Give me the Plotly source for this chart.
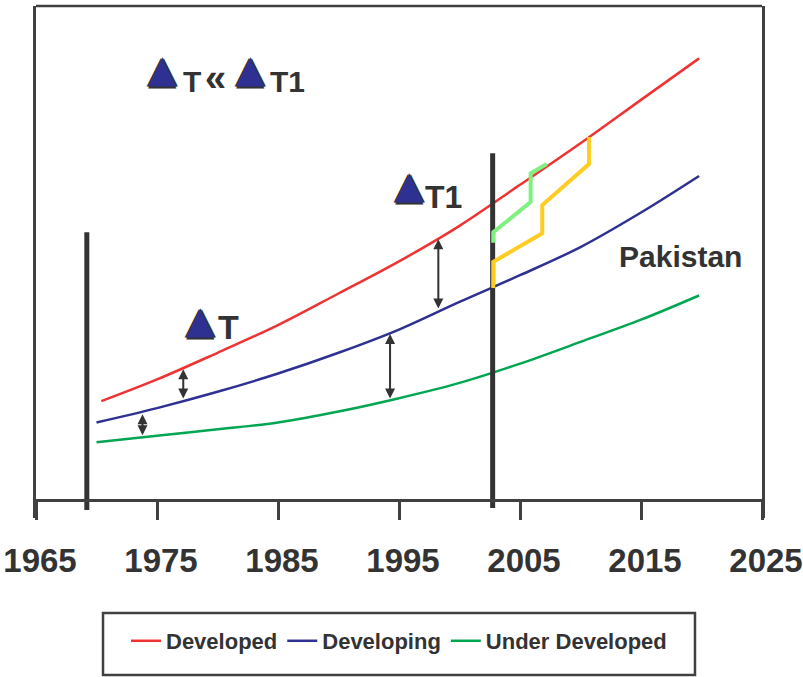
import plotly.graph_objects as go

# ---------------- data ----------------
dev_years = [1970.4, 1975, 1980, 1985, 1990, 1995, 2000, 2005, 2010, 2015, 2019.8]
developed = [20.0, 24.4, 29.8, 35.4, 41.8, 48.3, 55.5, 63.8, 72.2, 81.0, 89.4]

years = [1970, 1975, 1980, 1985, 1990, 1995, 2000, 2005, 2010, 2015, 2019.8]
developing = [15.7, 18.6, 21.9, 25.6, 29.8, 34.5, 40.1, 45.5, 51.2, 58.2, 65.6]
under_developed = [11.7, 13.0, 14.3, 15.7, 17.9, 20.6, 23.7, 27.6, 32.0, 36.5, 41.4]

pak_green_x = [2002.79, 2002.79, 2005.88, 2005.88, 2007.21]
pak_green_y = [52.1, 54.2, 60.3, 66.1, 68.0]
pak_yellow_x = [2002.79, 2002.79, 2006.84, 2006.84, 2010.70, 2010.70]
pak_yellow_y = [42.9, 48.2, 54.0, 59.7, 68.0, 73.5]

bar_left_x, bar_left_y = [1969.2, 1969.2], [-2.0, 54.2]
bar_right_x, bar_right_y = [2002.74, 2002.74], [-1.6, 70.2]

# gap arrows: (year, bottom value, top value)
gap_arrows = [
    (1973.8, 12.8, 17.35),
    (1977.17, 20.24, 26.46),
    (1994.26, 20.24, 33.6),
    (1998.25, 38.46, 52.77),
]

tick_vals = [1965, 1975, 1985, 1995, 2005, 2015, 2025]
tick_text = ["1965", "1975", "1985", "1995", "2005", "2015", "2025"]

X_RANGE = [1965, 2025]
Y_RANGE = [-3.644, 100]

# ---------------- styles ----------------
RED = "#EE3333"
BLUE = "#2E3192"
GREEN = "#00A651"
DARK = "#333333"
FRAME = "#404040"
FONT = "Liberation Sans, Arial, sans-serif"

fig = go.Figure()

fig.add_trace(go.Scatter(x=dev_years, y=developed, mode="lines", name="Developed",
                         line=dict(color=RED, width=2.5, shape="spline")))
fig.add_trace(go.Scatter(x=years, y=developing, mode="lines", name="Developing",
                         line=dict(color=BLUE, width=2.5, shape="spline")))
fig.add_trace(go.Scatter(x=years, y=under_developed, mode="lines", name="Under Developed",
                         line=dict(color=GREEN, width=2.5, shape="spline")))

for bx, by in [(bar_left_x, bar_left_y), (bar_right_x, bar_right_y)]:
    fig.add_trace(go.Scatter(x=bx, y=by, mode="lines", showlegend=False,
                             line=dict(color=DARK, width=5), hoverinfo="skip"))

fig.add_trace(go.Scatter(x=pak_green_x, y=pak_green_y, mode="lines", showlegend=False,
                         line=dict(color="#80F080", width=4)))
fig.add_trace(go.Scatter(x=pak_yellow_x, y=pak_yellow_y, mode="lines", showlegend=False,
                         line=dict(color="#FFCC22", width=4)))

annotations = []
for ax_year, lo, hi in gap_arrows:
    annotations.append(dict(x=ax_year, y=hi, ax=ax_year, ay=lo, xref="x", yref="y",
                            axref="x", ayref="y", text="", showarrow=True,
                            arrowhead=2, startarrowhead=2, arrowside="end+start",
                            arrowsize=1.0, startarrowsize=1.0, arrowwidth=2,
                            arrowcolor=DARK, standoff=0, startstandoff=0))

OUTLINE = "-1.5px 0 0 #333, 1.5px 0 0 #333, 0 -1.5px 0 #333, 0 1.5px 0 #333"


def tri(x, y, size):
    return dict(x=x, y=y, xref="x", yref="y", text="▲", showarrow=False,
                xanchor="center", yanchor="middle",
                font=dict(family="DejaVu Sans", size=size, color=BLUE, shadow=OUTLINE))


def label(x, y, text, size, anchor="left"):
    return dict(x=x, y=y, xref="x", yref="y", text=text, showarrow=False,
                xanchor=anchor, yanchor="middle",
                font=dict(family=FONT, size=size, color=DARK, weight="bold"))


annotations += [
    tri(1975.45, 87.2, 37), label(1977.0, 84.7, "T", 30),
    label(1979.8, 85.4, "«", 38, anchor="center"),
    tri(1982.73, 87.2, 37), label(1984.2, 84.7, "T1", 30),
    tri(1995.87, 63.6, 37), label(1997.0, 61.4, "T1", 32),
    tri(1978.60, 36.3, 37), label(1979.9, 35.0, "T", 34),
    label(2013.0, 49.3, "Pakistan", 30),
]

fig.update_layout(
    width=803, height=677,
    margin=dict(l=36, r=41, t=6, b=159, autoexpand=False),
    paper_bgcolor="white", plot_bgcolor="white",
    showlegend=True,
    legend=dict(orientation="h", x=0.5, xanchor="center", y=-0.2402, yanchor="middle",
                font=dict(family=FONT, size=22, color=DARK, weight="bold"),
                bgcolor="rgba(0,0,0,0)", borderwidth=0),
    annotations=annotations,
    shapes=[
        dict(type="line", xref="paper", yref="paper", x0=0, x1=1, y0=1, y1=1,
             line=dict(color=FRAME, width=2.5)),
        dict(type="rect", xref="paper", yref="paper", x0=0.0923, x1=0.9077,
             y0=-0.3066, y1=-0.1855, line=dict(color=FRAME, width=2.5)),
    ],
)

fig.update_xaxes(range=X_RANGE, tickvals=tick_vals, ticktext=tick_text,
                 anchor="free", position=-Y_RANGE[0] / (Y_RANGE[1] - Y_RANGE[0]),
                 automargin=False,
                 showline=True, linecolor=FRAME, linewidth=2.5,
                 ticks="outside", ticklen=18, tickwidth=2.5, tickcolor=FRAME,
                 ticklabelstandoff=13, ticklabelshift=4, ticklabeloverflow="allow",
                 tickfont=dict(family=FONT, size=33, color=DARK, weight="bold"),
                 showgrid=False, zeroline=False)
fig.update_yaxes(range=Y_RANGE, automargin=False, showline=True, mirror=True,
                 linecolor=FRAME, linewidth=2.5, showticklabels=False, ticks="",
                 showgrid=False, zeroline=False)

# the page's default 8px body margin would offset the 803x677 figure
fig.write_html("out.html", config={"displayModeBar": False},
               post_script="document.body.style.margin='0';"
                           "document.body.style.overflow='hidden';")
